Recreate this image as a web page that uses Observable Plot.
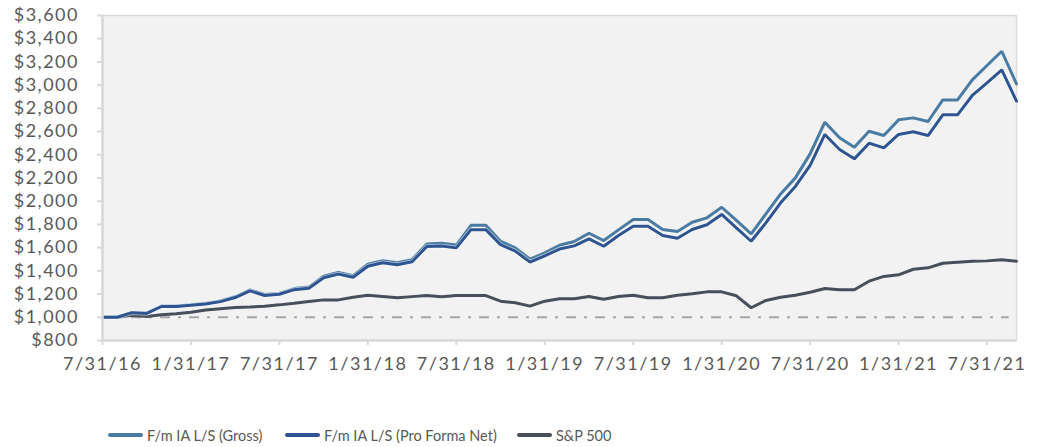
<!DOCTYPE html>
<html><head><meta charset="utf-8">
<script src="https://cdn.jsdelivr.net/npm/d3@7"></script>
<script src="https://cdn.jsdelivr.net/npm/@observablehq/plot@0.6"></script>
<style>
body{margin:0;background:#fff;font-family:Lato,sans-serif;}
#chart{position:relative;width:1039px;height:447px;overflow:hidden;}
#chart svg{position:absolute;left:0;top:0;}
#chart svg text{letter-spacing:1.5px;}
.item{position:absolute;top:424px;height:22px;display:flex;align-items:center;font:14.5px Lato,sans-serif;color:#595959;white-space:nowrap;}
.sw{display:inline-block;width:35px;height:3.5px;margin-right:4px;border-radius:2px;}
</style></head><body>
<div id="chart"></div>
<script>
// Month-end index 0 = 7/31/16 ... 62 = 9/30/21
const tickMonths = [0, 6, 12, 18, 24, 30, 36, 42, 48, 54, 60];
const tickLabels = ["7/31/16","1/31/17","7/31/17","1/31/18","7/31/18","1/31/19","7/31/19","1/31/20","7/31/20","1/31/21","7/31/21"];
const yTicks = [800,1000,1200,1400,1600,1800,2000,2200,2400,2600,2800,3000,3200,3400,3600];
const seriesNames = ["F/m IA L/S (Gross)", "F/m IA L/S (Pro Forma Net)", "S&P 500"];
const seriesColors = ["#4a7ca3", "#2e5491", "#474f5b"];

const gross = [1000,1000,1042,1036,1097,1097,1107,1120,1140,1177,1236,1196,1206,1247,1260,1353,1386,1358,1458,1488,1470,1497,1632,1638,1622,1792,1792,1655,1598,1500,1555,1620,1653,1724,1661,1753,1842,1842,1756,1739,1819,1857,1948,1834,1719,1891,2063,2201,2408,2681,2546,2465,2603,2566,2701,2718,2687,2873,2873,3045,3169,3292,3011];
const net = [1000,1000,1040,1033,1093,1093,1103,1115,1135,1170,1228,1188,1198,1238,1250,1340,1372,1345,1440,1470,1452,1478,1610,1615,1598,1755,1755,1625,1570,1475,1530,1588,1615,1676,1612,1705,1785,1785,1705,1681,1756,1797,1886,1770,1655,1813,1986,2127,2308,2575,2446,2365,2500,2460,2575,2598,2566,2744,2744,2911,3020,3132,2862];
const sp500 = [1000,1000,1017,1007,1021,1030,1044,1062,1074,1085,1088,1095,1107,1121,1136,1150,1150,1173,1190,1179,1168,1178,1187,1176,1187,1187,1187,1139,1125,1096,1139,1159,1159,1179,1156,1179,1190,1168,1168,1190,1202,1219,1219,1185,1082,1145,1173,1190,1216,1248,1237,1237,1311,1352,1366,1414,1426,1466,1475,1483,1486,1495,1483];
const baseline = 1000;

const idx = gross.map((_, i) => i);
const fmt = d3.format(",");

const chart = Plot.plot({
  width: 1039, height: 380,
  marginTop: 15, marginBottom: 40, marginLeft: 102, marginRight: 23,
  style: {fontFamily: "Lato, sans-serif", fontSize: "18px", background: "transparent", overflow: "visible"},
  x: {domain: [0, gross.length - 1]},
  y: {domain: [800, 3600]},
  marks: [
    Plot.frame({fill: "#f2f2f2", stroke: "#dcdcdc", strokeWidth: 1.5}),
    Plot.ruleY([baseline], {x1: 0, x2: gross.length - 1.5, stroke: "#a6a6a6", strokeWidth: 2, strokeDasharray: "10,8,3,8"}),
    Plot.line(idx, {x: d => d, y: d => sp500[d], stroke: seriesColors[2], strokeWidth: 3, strokeLinejoin: "miter"}),
    Plot.line(idx, {x: d => d, y: d => gross[d], stroke: seriesColors[0], strokeWidth: 3, strokeLinejoin: "miter"}),
    Plot.line(idx, {x: d => d, y: d => net[d], stroke: "#ffffff", strokeOpacity: 0.6, strokeWidth: 4.5, strokeLinejoin: "miter"}),
    Plot.line(idx, {x: d => d, y: d => net[d], stroke: seriesColors[1], strokeWidth: 3, strokeLinejoin: "miter"}),
    Plot.ruleX([0], {stroke: "#d9d9d9", strokeWidth: 2.5}),
    Plot.ruleY([800], {stroke: "#d9d9d9", strokeWidth: 2.5}),
    Plot.axisX({ticks: tickMonths, tickFormat: d => tickLabels[tickMonths.indexOf(d)], tickSize: 5, tickPadding: 12, stroke: "#d9d9d9", strokeWidth: 2, fill: "#595959", label: null}),
    Plot.axisY({ticks: yTicks, tickFormat: d => "$" + fmt(d), tickSize: 5, tickPadding: 18.5, stroke: "#d9d9d9", strokeWidth: 2, fill: "#595959", label: null})
  ]
});
const root = document.getElementById("chart");
root.appendChild(chart);

const lefts = [108, 285, 517];
seriesNames.forEach((name, k) => {
  const it = document.createElement("div");
  it.className = "item";
  it.style.left = lefts[k] + "px";
  const sw = document.createElement("span");
  sw.className = "sw";
  sw.style.background = seriesColors[k];
  it.appendChild(sw);
  it.appendChild(document.createTextNode(name));
  root.appendChild(it);
});
</script>
</body></html>
